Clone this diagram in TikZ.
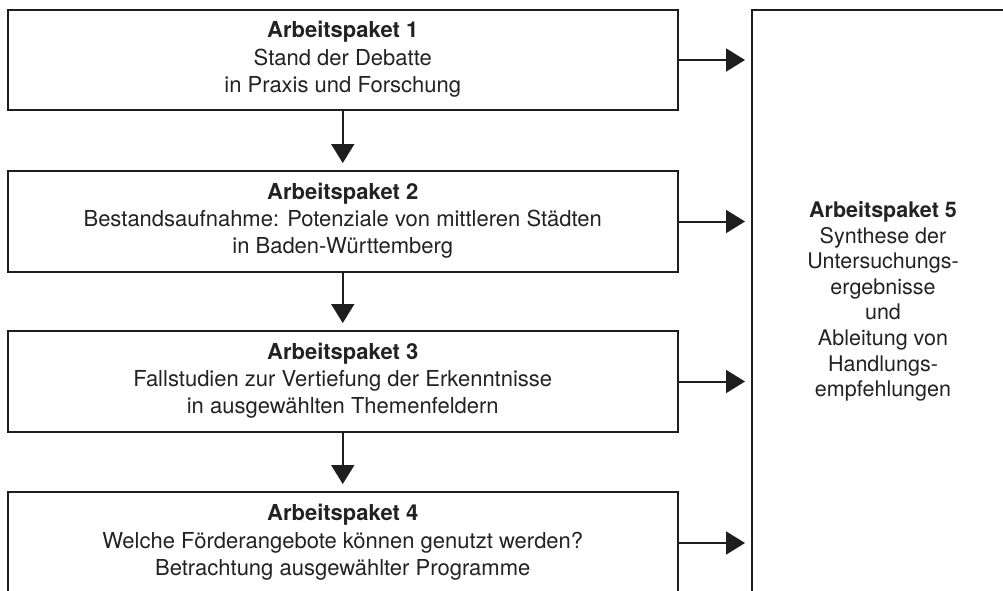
\documentclass[tikz,border=0pt]{standalone}
\usepackage{fontspec}
\setmainfont{TeX Gyre Heros}
\usetikzlibrary{arrows.meta}
\definecolor{ink}{HTML}{1E1E1E}
\definecolor{txt}{HTML}{222222}
\begin{document}
\begin{tikzpicture}[x=1pt,y=-1pt,
  apbox/.style={draw=ink, line width=2pt, minimum width=670.5pt, inner sep=0pt, outer sep=0pt,
    align=center, text=txt, font=\fontsize{22}{27.2}\selectfont},
  bigbox/.style={draw=ink, line width=2pt, minimum width=262pt, minimum height=583pt, inner sep=0pt, outer sep=0pt,
    align=center, text=txt, font=\fontsize{21.5}{25.6}\selectfont},
  flow/.style={draw=ink, line width=2pt, -{Triangle[length=19pt,width=23pt]}}
]
\useasboundingbox (0,0) rectangle (1003,590);
\clip (0,0) rectangle (1003,590);
\node[apbox, minimum height=100pt] (ap1) at (342.75,60) {\textbf{Arbeitspaket 1}\\Stand der Debatte\\in Praxis und Forschung\\[-21pt]};
\node[apbox, minimum height=101pt] (ap2) at (342.75,221.5) {\textbf{Arbeitspaket 2}\\Bestandsaufnahme: Potenziale von mittleren Städten\\in Baden-Württemberg\\[-21pt]};
\node[apbox, minimum height=101pt] (ap3) at (342.75,381.5) {\textbf{Arbeitspaket 3}\\Fallstudien zur Vertiefung der Erkenntnisse\\in ausgewählten Themenfeldern\\[-21pt]};
\node[apbox, minimum height=102pt] (ap4) at (342.75,543) {\textbf{Arbeitspaket 4}\\Welche Förderangebote können genutzt werden?\\Betrachtung ausgewählter Programme\\[-21pt]};
\node[bigbox] (ap5) at (883,301.5) {\textbf{Arbeitspaket 5}\\Synthese der\\Untersuchungs-\\ergebnisse\\und\\Ableitung von\\Handlungs-\\empfehlungen};
\draw[flow, shorten >=8pt] (ap1) -- (ap2);
\draw[flow, shorten >=8pt] (ap2) -- (ap3);
\draw[flow, shorten >=8pt] (ap3) -- (ap4);
\draw[flow, shorten >=7pt] (ap1.east) -- (ap1.east -| ap5.west);
\draw[flow, shorten >=7pt] (ap2.east) -- (ap2.east -| ap5.west);
\draw[flow, shorten >=7pt] (ap3.east) -- (ap3.east -| ap5.west);
\draw[flow, shorten >=7pt] (ap4.east) -- (ap4.east -| ap5.west);
\end{tikzpicture}
\end{document}
